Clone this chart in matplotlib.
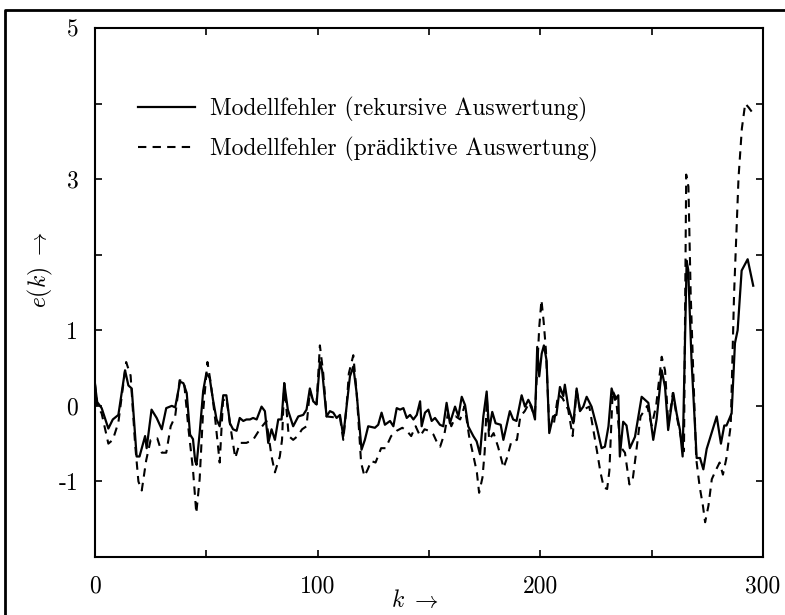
import matplotlib
matplotlib.use("Agg")
import matplotlib.pyplot as plt
from matplotlib.lines import Line2D

plt.rcParams["font.family"] = ["cmr10", "Liberation Serif"]
plt.rcParams["mathtext.fontset"] = "cm"
plt.rcParams["axes.unicode_minus"] = False

# Modellfehler, rekursive Auswertung (durchgezogen)
k_rek = [0, 1, 3, 6, 8, 10.5, 13.5, 15, 16.5, 18.7,
         20, 22.5, 23.2, 25.4, 27.7, 30, 32, 34.5, 36, 38.2,
         39.7, 41.2, 42.7, 44, 45, 45.6, 47, 48.6, 50, 51.5,
         53, 54.6, 56, 57.6, 59, 60.6, 62, 63.6, 65, 66.6,
         68, 69.6, 71, 72.6, 74.8, 76.3, 77.8, 79.3, 80.8, 82.3,
         83.8, 85, 86.6, 89, 91.3, 93.5, 95, 96.5, 98, 99.5,
         101, 102, 104, 105.5, 107, 108.5, 110, 111.5, 113, 114.5,
         116, 117.5, 119.7, 121.2, 122.7, 125.7, 127.2, 128.7, 130.2, 132.5,
         134, 135.5, 137, 138.5, 140, 141.5, 143, 144.5, 146, 146.7,
         148.2, 149.7, 151.2, 152.7, 154.9, 156.4, 157.9, 159.4, 161.7, 163.2,
         164.7, 166.2, 167.6, 169.9, 171.4, 172.9, 174.4, 175.9, 177, 178.4,
         179.9, 182.2, 183.4, 186.3, 187.8, 189.3, 191.6, 193.1, 194.6, 196.1,
         197.6, 198.6, 199.5, 200.6, 201.6, 202.8, 204, 205.7, 207.2, 208.8,
         210.3, 211, 212.5, 214.8, 216.3, 217.8, 219.3, 220.8, 223, 225.3,
         227.5, 229, 230.6, 232, 233.5, 235, 235.7, 237.2, 238.7, 240.2,
         242.5, 245.5, 248.5, 250.7, 252.2, 254.5, 256, 257.4, 259.7, 261.2,
         262.7, 263.9, 265.7, 266.4, 267.9, 270.2, 271.7, 273.2, 274.7, 277,
         279.2, 281.1, 282.6, 283.6, 285.9, 287.4, 288.6, 290.4, 291.5, 293.1,
         295.6]
e_rek = [0.28, 0.05, -0.03, -0.3, -0.18, -0.12, 0.47, 0.27, 0.23, -0.67,
         -0.67, -0.4, -0.56, -0.05, -0.16, -0.31, -0.03, 0.0, -0.02, 0.32,
         0.3, 0.17, -0.38, -0.44, -0.73, -0.78, -0.36, 0.2, 0.43, 0.37,
         0.08, -0.18, -0.27, 0.14, 0.14, -0.23, -0.31, -0.33, -0.16, -0.2,
         -0.18, -0.18, -0.16, -0.18, -0.01, -0.07, -0.49, -0.31, -0.45, -0.18,
         -0.18, 0.3, -0.05, -0.27, -0.14, -0.12, -0.05, 0.23, 0.06, 0.02,
         0.58, 0.47, -0.14, -0.07, -0.09, -0.16, -0.12, -0.4, 0.0, 0.39,
         0.52, 0.17, -0.58, -0.45, -0.27, -0.29, -0.25, -0.09, -0.25, -0.2,
         -0.27, -0.03, -0.05, -0.03, -0.16, -0.12, -0.18, -0.12, 0.06, -0.27,
         -0.09, -0.05, -0.2, -0.16, -0.25, -0.27, 0.04, -0.23, -0.01, -0.14,
         0.12, 0.01, -0.27, -0.4, -0.47, -0.64, -0.14, 0.19, -0.32, -0.08,
         -0.23, -0.25, -0.45, -0.07, -0.18, -0.2, 0.14, -0.01, 0.08, -0.01,
         -0.18, 0.78, 0.39, 0.69, 0.8, 0.6, -0.36, -0.14, -0.12, 0.25,
         0.13, 0.28, -0.01, -0.23, 0.23, -0.07, -0.01, 0.12, -0.01, -0.27,
         -0.56, -0.54, -0.27, 0.23, 0.08, 0.14, -0.67, -0.21, -0.26, -0.56,
         -0.41, 0.12, 0.04, -0.45, -0.18, 0.47, 0.25, -0.32, 0.17, -0.1,
         -0.32, -0.67, 1.92, 1.8, 0.6, -0.69, -0.69, -0.84, -0.57, -0.35,
         -0.14, -0.5, -0.26, -0.26, -0.1, 0.83, 1.0, 1.79, 1.85, 1.94,
         1.59]

# Modellfehler, prädiktive Auswertung (gestrichelt)
k_pra = [0, 1, 3, 6, 8, 10.5, 14, 16, 18, 19.5,
         21, 23, 25, 28, 30, 32, 34, 36, 38, 40,
         42, 44, 45.5, 47, 48.5, 50.5, 52, 54, 56, 57.5,
         59, 61, 63, 65, 68, 71, 74, 77, 79.3, 80.8,
         83, 84, 85, 87, 89, 91, 93, 95, 96.5, 98,
         99.5, 101, 102.5, 104, 107, 110, 111.5, 113, 114, 116,
         117.5, 119.5, 121, 122.5, 124, 126, 128.5, 130.5, 133, 135.5,
         138, 140, 142, 144, 146, 148, 150, 152, 154, 155,
         157, 158.5, 160, 162, 164, 166, 168, 170, 171.5, 172.5,
         174, 175, 176, 177, 179, 181, 182.5, 183.5, 185, 187,
         189.5, 191, 193, 195, 197.5, 198.5, 199.5, 200.5, 201.5, 202.5,
         204, 206, 208, 210, 212.5, 214.5, 216.3, 218, 222, 225.5,
         227, 228.5, 230, 231, 232.5, 234, 236, 238, 240, 241.5,
         243, 245, 248, 250, 252, 254.5, 256, 257.5, 259.5, 261,
         263, 264.5, 265.5, 266.5, 267.5, 268.5, 270, 271.5, 273, 274,
         275.5, 277, 279, 280.5, 282, 283.5, 285.5, 287, 289, 290.5,
         292, 293.5, 295]
e_pra = [0.3, 0.0, -0.1, -0.5, -0.45, -0.22, 0.58, 0.4, -0.5, -1.0,
         -1.12, -0.72, -0.45, -0.43, -0.62, -0.62, -0.27, -0.14, 0.34, 0.32,
         -0.31, -0.84, -1.42, -0.97, -0.1, 0.58, 0.3, -0.18, -0.75, 0.07,
         0.1, -0.31, -0.69, -0.49, -0.49, -0.45, -0.31, -0.2, -0.67, -0.88,
         -0.67, -0.45, 0.3, -0.4, -0.45, -0.4, -0.31, -0.27, 0.2, 0.05,
         0.02, 0.8, 0.43, -0.14, -0.15, -0.15, -0.45, 0.0, 0.43, 0.67,
         0.18, -0.75, -0.93, -0.84, -0.73, -0.75, -0.56, -0.56, -0.4, -0.33,
         -0.29, -0.33, -0.4, -0.27, -0.4, -0.31, -0.33, -0.38, -0.51, -0.54,
         -0.36, -0.1, -0.27, -0.14, -0.18, 0.0, -0.4, -0.67, -0.88, -1.15,
         -0.95, -0.61, 0.1, -0.45, -0.36, -0.54, -0.71, -0.82, -0.69, -0.47,
         -0.45, -0.14, -0.07, 0.04, -0.14, 0.43, 1.04, 1.4, 1.11, 0.74,
         -0.27, -0.25, 0.15, 0.1, -0.05, -0.4, 0.2, -0.07, -0.01, -0.61,
         -0.88, -1.08, -1.1, -0.86, 0.2, 0.1, -0.54, -0.62, -1.04, -0.97,
         -0.62, -0.14, 0.0, -0.26, 0.0, 0.65, 0.47, -0.26, 0.17, -0.1,
         -0.4, -0.6, 3.06, 2.9, 1.5, 0.6, -0.7, -1.06, -1.32, -1.54,
         -1.32, -0.97, -0.84, -0.75, -0.91, -0.7, -0.26, 1.48, 3.02, 3.67,
         4.0, 3.95, 3.89]

x_ticks = [0, 50, 100, 150, 200, 250, 300]
x_labels = ["0", "", "100", "", "200", "", "300"]
y_ticks = [-2, -1, 0, 1, 2, 3, 4, 5]
y_labels = ["", "-1", "0", "1", "", "3", "", "5"]

fs = 17

fig = plt.figure(figsize=(7.85, 6.15), dpi=100)
ax = fig.add_axes([0.121, 0.0943, 0.851, 0.8602])

ax.plot(k_rek, e_rek, color="black", lw=1.6,
        label="Modellfehler (rekursive Auswertung)")
ax.plot(k_pra, e_pra, color="black", lw=1.5, ls=(0, (4, 3)),
        label="Modellfehler (prädiktive Auswertung)")

ax.set_xlim(0, 300)
ax.set_ylim(-2, 5)
ax.set_xticks(x_ticks, x_labels)
ax.set_yticks(y_ticks, y_labels)
ax.tick_params(direction="in", length=5, width=1.2, top=True, right=True,
               labelsize=fs)
ax.tick_params(axis="x", pad=13)
ax.tick_params(axis="y", pad=12)
for s in ax.spines.values():
    s.set_linewidth(1.5)

leg = ax.legend(loc="upper left", bbox_to_anchor=(138 / 785, 1 - 97 / 615),
                bbox_transform=fig.transFigure, frameon=False, fontsize=fs,
                handlelength=2.4, handletextpad=0.65, labelspacing=0.62,
                borderpad=0, borderaxespad=0)

fig.text(40 / 785, 1 - 270 / 615, r"$e(k)\ \rightarrow$", rotation=90,
         ha="center", va="center", fontsize=fs)
fig.text(415 / 785, 1 - 601 / 615, r"$k\ \rightarrow$",
         ha="center", va="center", fontsize=fs)

# Rahmen um die Abbildung (links und oben sichtbar)
fig.add_artist(Line2D([5 / 785, 5 / 785, 1.0], [0.0, 1 - 10 / 615, 1 - 10 / 615],
                      transform=fig.transFigure, color="black", lw=2))

fig.savefig("out.png", dpi=100)
